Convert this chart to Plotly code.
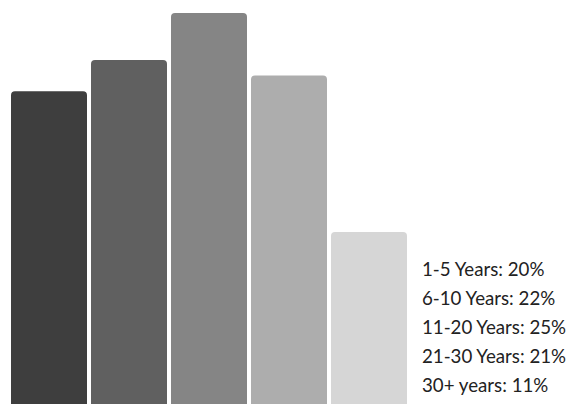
import plotly.graph_objects as go

categories = ["1-5 Years", "6-10 Years", "11-20 Years", "21-30 Years", "30+ years"]
values = [20, 22, 25, 21, 11]
colors = ["#3e3e3e", "#606060", "#858585", "#adadad", "#d6d6d6"]

W, H = 568, 404
ML, MT, MB = 9, 13, 0
PW = 400
PH = H - MT - MB

fig = go.Figure()
fig.add_trace(go.Bar(
    x=categories, y=values,
    marker=dict(color=colors, cornerradius=4, line=dict(width=0)),
    hoverinfo="skip",
))

# legend text block
top_center = 269
spacing = 29
for i, (c, v) in enumerate(zip(categories, values)):
    ypix = top_center + i * spacing
    fig.add_annotation(
        xref="paper", yref="paper",
        x=(420 - ML) / PW, y=1 - (ypix - MT) / PH,
        xanchor="left", yanchor="middle",
        text=f"{c}: {v}%", showarrow=False,
        font=dict(family="Lato", size=18.7, color="#222222"),
    )

fig.update_layout(
    width=W, height=H,
    margin=dict(l=ML, r=W - ML - PW, t=MT, b=MB),
    paper_bgcolor="white", plot_bgcolor="white",
    bargap=0.05,
    showlegend=False,
    hovermode=False,
    xaxis=dict(visible=False),
    yaxis=dict(visible=False, range=[0, 25]),
)
fig.write_html(
    "out.html",
    config={"displayModeBar": False},
    post_script="document.body.style.margin='0';document.body.style.overflow='hidden';",
)
